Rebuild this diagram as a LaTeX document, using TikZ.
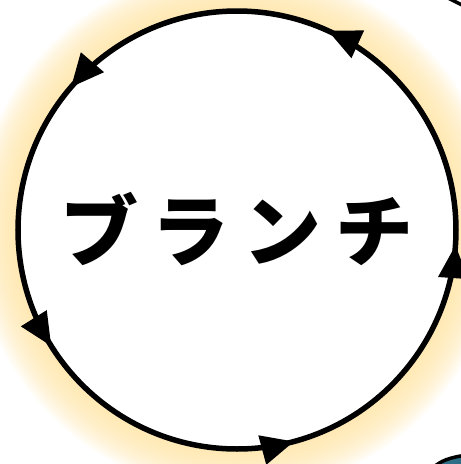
\documentclass[tikz,border=0pt]{standalone}
\usepackage{fontspec}
\newfontfamily\jpfont{Noto Sans CJK JP}
\usetikzlibrary{decorations.markings,arrows.meta}
\definecolor{glow}{HTML}{FFE3A0}
\definecolor{tealfill}{HTML}{2E6E86}
\tikzset{
  ring/.style={line width=5.5pt, draw=black,
    postaction={decorate},
    decoration={markings,
      mark=at position 0.182 with {\arrow{Triangle[length=33pt,width=29pt]}},
      mark=at position 0.387 with {\arrow{Triangle[length=33pt,width=29pt]}},
      mark=at position 0.589 with {\arrow{Triangle[length=33pt,width=29pt]}},
      mark=at position 0.792 with {\arrow{Triangle[length=33pt,width=29pt]}},
      mark=at position 0.989 with {\arrow{Triangle[length=33pt,width=29pt]}}}},
  label/.style={font=\jpfont\bfseries\fontsize{78}{80}\selectfont, text=black},
}
\begin{document}
\begin{tikzpicture}[x=1pt,y=-1pt]
\useasboundingbox (0,0) rectangle (461,464);
\clip (0,0) rectangle (461,464);
\coordinate (c) at (237,230);
% glow
\foreach \i in {0,...,29}{
  \fill[glow, opacity=0.05] (c) circle ({219+44-1.45*\i});
}
% neighbouring partial shapes
\draw[line width=3.5pt, draw=black] (446,-3) .. controls (452,0) and (458,3) .. (468,8);
\draw[line width=3.5pt, draw=black, fill=tealfill] (433,468) .. controls (440,461) and (450,457) .. (468,455) -- (468,470) -- cycle;
% main ring
\fill[white] (c) circle (219);
\draw[ring] (c) ++(219,0) arc[start angle=360, end angle=0, radius=219];
\node[label] (t) at (237,229) {ブ\hspace{14pt}ラ\hspace{14pt}ン\hspace{14pt}チ};
\end{tikzpicture}
\end{document}
